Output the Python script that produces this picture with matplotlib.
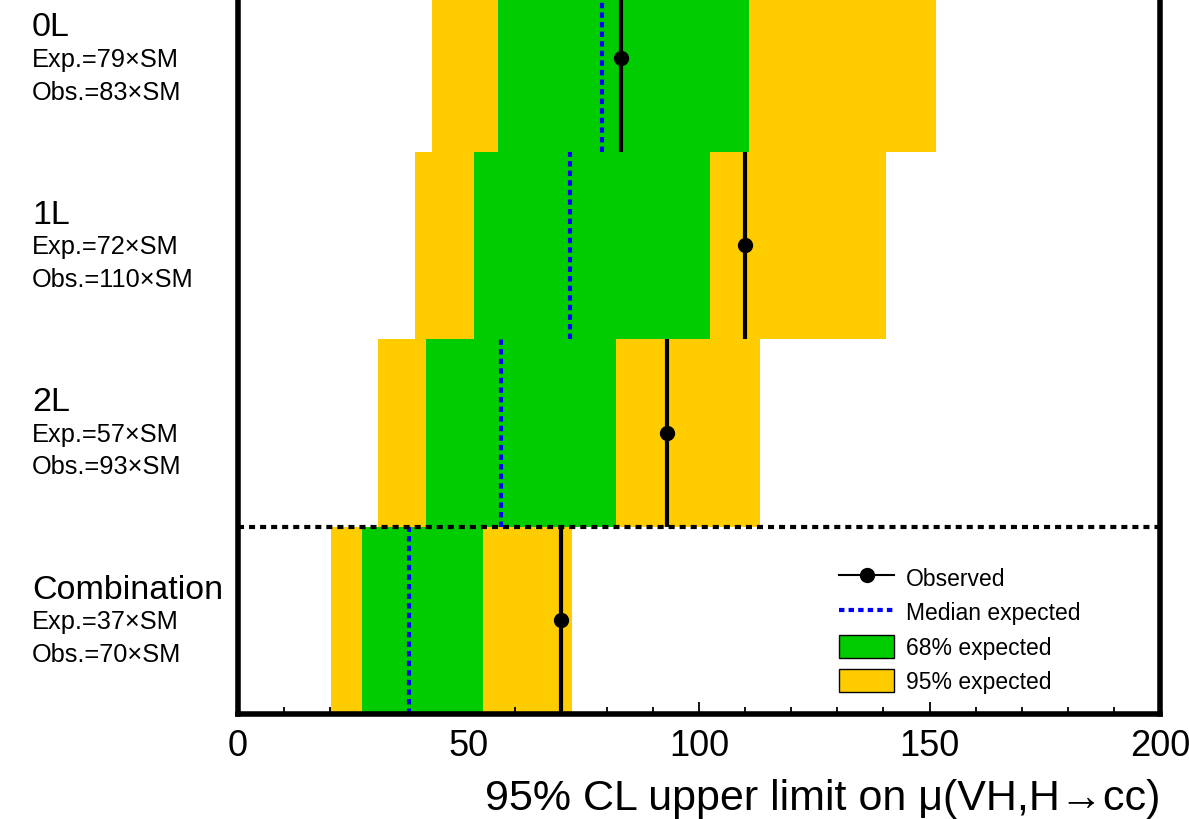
import numpy as np
import matplotlib
matplotlib.use("Agg")
import matplotlib.pyplot as plt
from matplotlib.lines import Line2D
from matplotlib.patches import Patch
from matplotlib.ticker import MultipleLocator
import matplotlib.transforms as mtransforms

plt.rcParams['font.family'] = ['Liberation Sans', 'DejaVu Sans']

# channels, top to bottom
channels = ["0L", "1L", "2L", "Combination"]
lo95 = [42.1, 38.4, 30.4, 20.2]
lo68 = [56.4, 51.2, 40.8, 26.9]
median = [79, 72, 57, 37]
hi68 = [110.8, 102.4, 82.0, 53.1]
hi95 = [151.4, 140.6, 113.2, 72.5]
observed = [83, 110, 93, 70]

yellow = "#ffcc00"
green = "#00cc00"

fig = plt.figure(figsize=(11.89, 8.2), dpi=100)
# top row runs past the upper edge of the canvas
ax = fig.add_axes([238 / 1189, 105 / 820, 922 / 1189, 750 / 820])

n = len(channels)
ybase = np.arange(n)[::-1]  # bottom edge of each row

ax.barh(ybase, np.array(hi95) - np.array(lo95), left=lo95, height=1.0,
        align='edge', color=yellow, linewidth=0, zorder=1)
ax.barh(ybase, np.array(hi68) - np.array(lo68), left=lo68, height=1.0,
        align='edge', color=green, linewidth=0, zorder=2)

for i in range(n):
    y0 = ybase[i]
    ax.plot([median[i], median[i]], [y0, y0 + 1], color='#0000ff', lw=3,
            dashes=(1.3, 1.0), zorder=3)
    ax.plot([observed[i], observed[i]], [y0, y0 + 1], color='black', lw=3,
            zorder=4, solid_capstyle='butt')
    ax.plot(observed[i], y0 + 0.5, 'o', color='black', ms=10, zorder=5)

# separator between channels and combination
ax.axhline(1.0, color='black', lw=3, dashes=(1.45, 1.2), zorder=6)

# channel labels on the left
trans = mtransforms.blended_transform_factory(fig.transFigure, ax.transData)
for i in range(n):
    yc = ybase[i] + 0.5
    ax.text(32 / 1189, yc + 0.165, channels[i], transform=trans, fontsize=24.5,
            ha='left', va='center')
    ax.text(32 / 1189, yc - 0.005, "Exp.=%d\u00d7SM" % median[i], transform=trans,
            fontsize=18.3, ha='left', va='center')
    ax.text(32 / 1189, yc - 0.18, "Obs.=%d\u00d7SM" % observed[i], transform=trans,
            fontsize=18.3, ha='left', va='center')

ax.set_xlim(0, 200)
ax.set_ylim(0, n)
ax.set_yticks([])
ax.xaxis.set_major_locator(MultipleLocator(50))
ax.xaxis.set_minor_locator(MultipleLocator(10))
ax.tick_params(axis='x', which='major', direction='in', length=9, width=1.3,
               labelsize=26, pad=10, top=True)
ax.tick_params(axis='x', which='minor', direction='in', length=5, width=1.3, top=True)
for s in ax.spines.values():
    s.set_linewidth(4)
    s.set_zorder(10)

ax.set_xlabel("95% CL upper limit on \u03bc(VH,H\u2192cc)",
              fontsize=31, loc='right', labelpad=11)

handles = [
    Line2D([], [], color='black', lw=1.5, marker='o', ms=10),
    Line2D([], [], color='#0000ff', lw=3, dashes=(1.3, 1.0)),
    Patch(facecolor=green, edgecolor='black', lw=1),
    Patch(facecolor=yellow, edgecolor='black', lw=1),
]
labels = ["Observed", "Median expected", "68% expected", "95% expected"]
ax.legend(handles, labels, loc='lower left', bbox_to_anchor=(0.63, 0.0),
          frameon=False, fontsize=16.5, handlelength=2.4, handleheight=1.15,
          labelspacing=0.45, handletextpad=0.5)

fig.savefig("out.png", dpi=100)
